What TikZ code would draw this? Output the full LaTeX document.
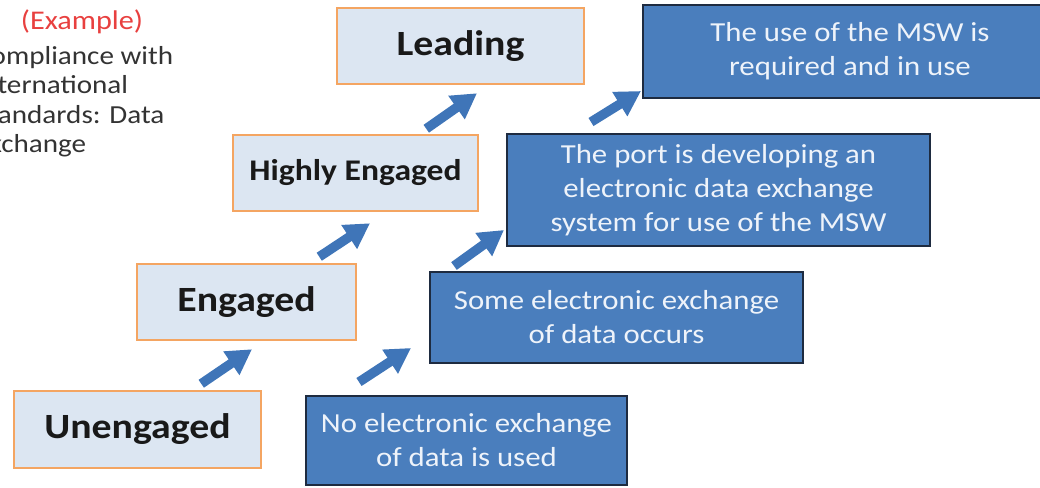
\documentclass[tikz,border=0pt]{standalone}
\usepackage{fontspec}
\setmainfont[FakeStretch=1.12]{Carlito}
\usetikzlibrary{arrows.meta}
\definecolor{lvlfill}{HTML}{DCE6F2}
\definecolor{lvlborder}{HTML}{F4A562}
\definecolor{descfill}{HTML}{4A7EBD}
\definecolor{descborder}{HTML}{1E2B40}
\definecolor{desctext}{HTML}{EEF3FA}
\definecolor{arrowblue}{HTML}{3F75B8}
\definecolor{examplered}{HTML}{E8403F}
\begin{document}
\begin{tikzpicture}[x=1pt,y=-1pt,
 lvl/.style={draw=lvlborder, fill=lvlfill, line width=2.5pt, inner sep=0pt, font=\fontsize{35.5}{40}\selectfont\bfseries, text=black!90},
 desc/.style={draw=descborder, fill=descfill, line width=2pt, inner sep=0pt, align=center, font=\fontsize{27.5}{34}\selectfont, text=desctext},
 stepup/.style={draw=arrowblue, line width=9.5pt, -{Triangle[length=25pt,width=27pt]}}
]
\useasboundingbox (0,0) rectangle (1040,487);
\clip (0,0) rectangle (1040,487);

% left description text
\node[anchor=base, text=examplered, font=\fontsize{27}{30}\selectfont, inner sep=0pt] (ex) at (82,30) {(Example)};
\node[anchor=north west, align=left, font=\fontsize{26}{29.5}\selectfont, text=black!80, inner sep=0pt] (cp) at (-25,46) {Compliance with\\International\\Standards: Data\\Exchange};

% level boxes
\node[lvl, minimum width=247pt, minimum height=77pt] (un) at (137.5,429.5) {Unengaged};
\node[lvl, minimum width=219pt, minimum height=76pt] (en) at (246.5,302) {Engaged};
\node[lvl, minimum width=245pt, minimum height=76pt, font=\fontsize{30}{36}\selectfont\bfseries] (hi) at (355.5,173) {Highly Engaged};
\node[lvl, minimum width=247pt, minimum height=76pt] (le) at (460.5,46) {Leading};

% description boxes
\node[desc, minimum width=321pt, minimum height=89pt] (no) at (466.5,440.5) {No electronic exchange\\of data is used};
\node[desc, minimum width=373pt, minimum height=91pt] (so) at (616.5,317.5) {Some electronic exchange\\of data occurs};
\node[desc, minimum width=423pt, minimum height=112pt] (po) at (718.5,190) {The port is developing an\\electronic data exchange\\system for use of the MSW};
\node[desc, minimum width=414pt, minimum height=93pt] (us) at (850,51.5) {The use of the MSW is\\required and in use};

% arrows
\draw[stepup] ([shift={(-61,-6)}]un.north east) -- ([shift={(5.5,8)}]en.south);
\draw[stepup] ([shift={(-38,-6)}]en.north east) -- ([shift={(14.5,11)}]hi.south);
\draw[stepup] ([shift={(-53,-5)}]hi.north east) -- ([shift={(16.5,8)}]le.south);
\draw[stepup] ([shift={(54,-13)}]no.north west) -- ([shift={(-18,-16)}]so.south west);
\draw[stepup] ([shift={(25,-5)}]so.north west) -- ([shift={(-2,-17)}]po.south west);
\draw[stepup] ([shift={(85,-11)}]po.north west) -- ([shift={(-1,-8)}]us.south west);
\end{tikzpicture}
\end{document}
